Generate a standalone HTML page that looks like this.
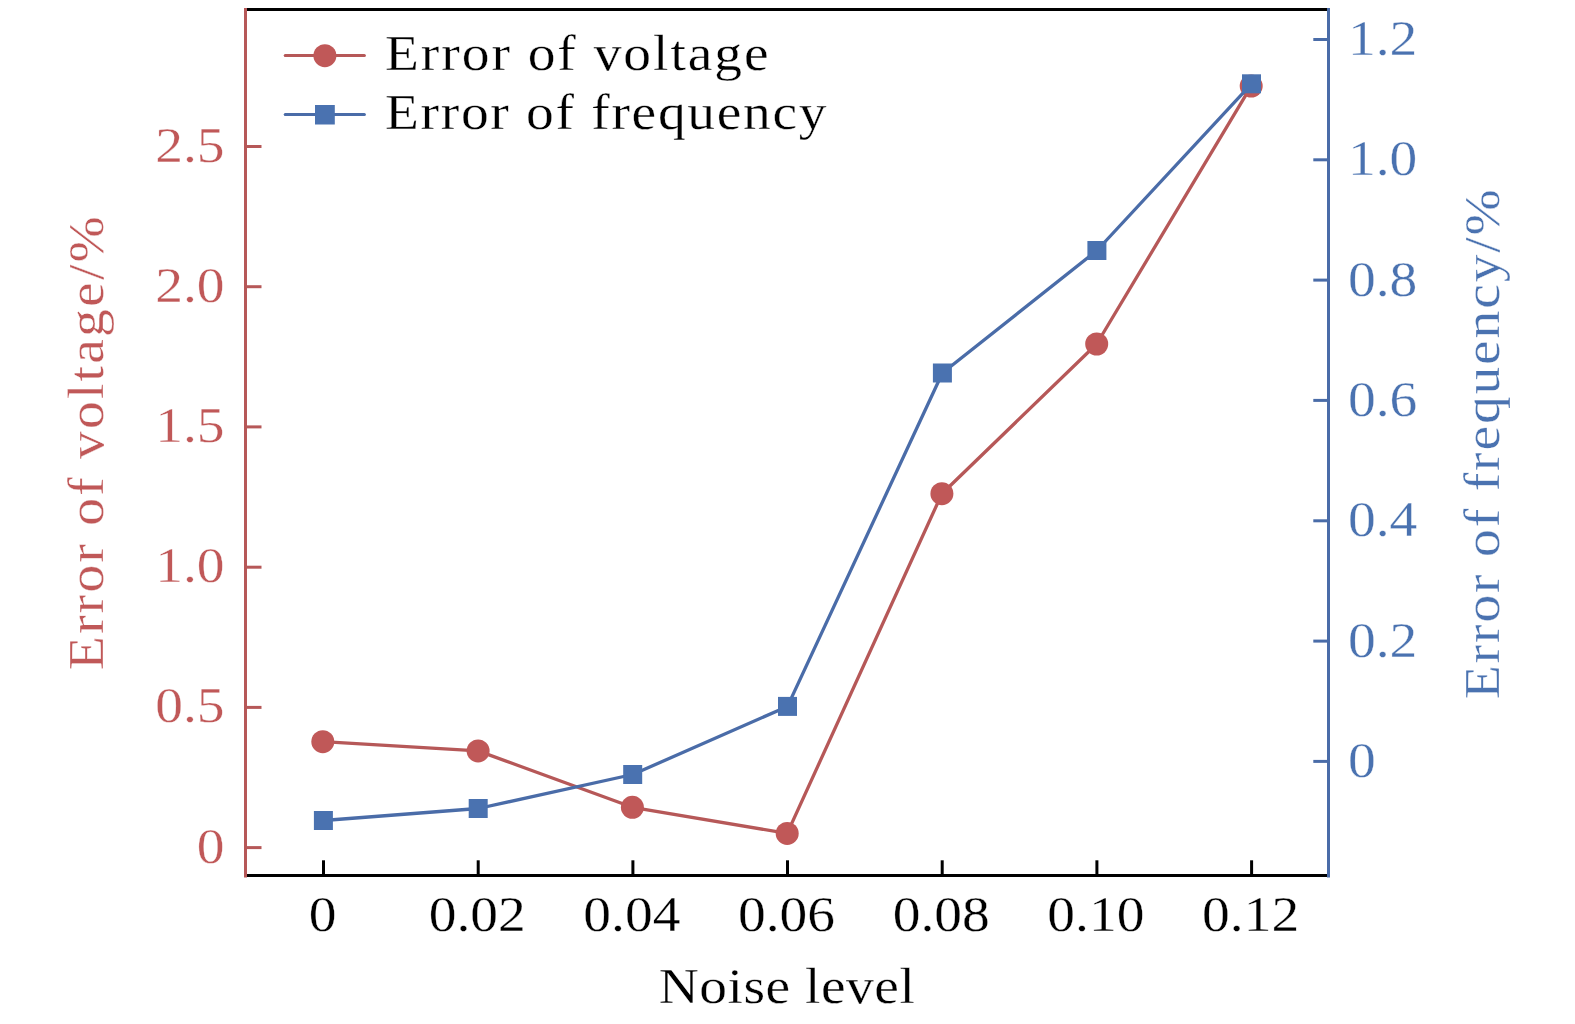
<!DOCTYPE html><html><head><meta charset="utf-8"><style>html,body{margin:0;padding:0;background:#fff;width:1575px;height:1024px;overflow:hidden}svg{display:block}text{font-family:"Liberation Serif", serif}</style></head><body>
<svg width="1575" height="1024" viewBox="0 0 1575 1024">
<rect width="1575" height="1024" fill="#fff"/>
<g stroke-width="3" fill="none">
<line x1="244" y1="9.5" x2="1330" y2="9.5" stroke="#000"/>
<line x1="244" y1="875.5" x2="1330" y2="875.5" stroke="#000"/>
<line x1="245.5" y1="8" x2="245.5" y2="877.5" stroke="#B65858"/>
<line x1="1328.5" y1="8" x2="1328.5" y2="877.5" stroke="#4A6CA8"/>
<line x1="245" y1="847.6" x2="261.5" y2="847.6" stroke="#B65858"/>
<line x1="245" y1="707.4" x2="261.5" y2="707.4" stroke="#B65858"/>
<line x1="245" y1="567.2" x2="261.5" y2="567.2" stroke="#B65858"/>
<line x1="245" y1="426.9" x2="261.5" y2="426.9" stroke="#B65858"/>
<line x1="245" y1="286.7" x2="261.5" y2="286.7" stroke="#B65858"/>
<line x1="245" y1="146.5" x2="261.5" y2="146.5" stroke="#B65858"/>
<line x1="1313.3" y1="761.4" x2="1329" y2="761.4" stroke="#4A6CA8"/>
<line x1="1313.3" y1="641.1" x2="1329" y2="641.1" stroke="#4A6CA8"/>
<line x1="1313.3" y1="520.8" x2="1329" y2="520.8" stroke="#4A6CA8"/>
<line x1="1313.3" y1="400.4" x2="1329" y2="400.4" stroke="#4A6CA8"/>
<line x1="1313.3" y1="280.1" x2="1329" y2="280.1" stroke="#4A6CA8"/>
<line x1="1313.3" y1="159.8" x2="1329" y2="159.8" stroke="#4A6CA8"/>
<line x1="1313.3" y1="39.5" x2="1329" y2="39.5" stroke="#4A6CA8"/>
<line x1="323.5" y1="860.3" x2="323.5" y2="876" stroke="#000"/>
<line x1="478.2" y1="860.3" x2="478.2" y2="876" stroke="#000"/>
<line x1="632.9" y1="860.3" x2="632.9" y2="876" stroke="#000"/>
<line x1="787.5" y1="860.3" x2="787.5" y2="876" stroke="#000"/>
<line x1="942.2" y1="860.3" x2="942.2" y2="876" stroke="#000"/>
<line x1="1096.9" y1="860.3" x2="1096.9" y2="876" stroke="#000"/>
<line x1="1251.6" y1="860.3" x2="1251.6" y2="876" stroke="#000"/>
</g>
<polyline fill="none" stroke="#B65858" stroke-width="3.3" stroke-linejoin="round" points="322.8,741.7 478.1,750.9 632.4,807.3 787.2,833.4 941.9,493.7 1096.7,344.0 1251.2,86.1"/>
<circle cx="322.8" cy="741.7" r="11.5" fill="#C05858"/>
<circle cx="478.1" cy="750.9" r="11.5" fill="#C05858"/>
<circle cx="632.4" cy="807.3" r="11.5" fill="#C05858"/>
<circle cx="787.2" cy="833.4" r="11.5" fill="#C05858"/>
<circle cx="941.9" cy="493.7" r="11.5" fill="#C05858"/>
<circle cx="1096.7" cy="344.0" r="11.5" fill="#C05858"/>
<circle cx="1251.2" cy="86.1" r="11.5" fill="#C05858"/>
<polyline fill="none" stroke="#4A6CA8" stroke-width="3.3" stroke-linejoin="round" points="323.4,820.5 478.2,808.5 632.7,774.5 787.5,706.4 942.4,373.0 1096.9,250.5 1251.5,83.8"/>
<rect x="313.9" y="811.0" width="19" height="19" fill="#4A72B0"/>
<rect x="468.7" y="799.0" width="19" height="19" fill="#4A72B0"/>
<rect x="623.2" y="765.0" width="19" height="19" fill="#4A72B0"/>
<rect x="778.0" y="696.9" width="19" height="19" fill="#4A72B0"/>
<rect x="932.9" y="363.5" width="19" height="19" fill="#4A72B0"/>
<rect x="1087.4" y="241.0" width="19" height="19" fill="#4A72B0"/>
<rect x="1242.0" y="74.3" width="19" height="19" fill="#4A72B0"/>
<line x1="285.2" y1="55.4" x2="364.4" y2="55.4" stroke="#B65858" stroke-width="3" stroke-linecap="round"/>
<circle cx="324.9" cy="55.7" r="11.5" fill="#C05858"/>
<line x1="285.2" y1="114.5" x2="364.4" y2="114.5" stroke="#4A6CA8" stroke-width="3" stroke-linecap="round"/>
<rect x="315" y="105" width="19.8" height="19.5" fill="#4A72B0"/>
<text transform="translate(385.00,70.30) scale(1.110,1)" font-size="50" text-anchor="start" letter-spacing="1.76" fill="#000" stroke="#fff" stroke-width="0.3">Error of voltage</text>
<text transform="translate(385.00,128.80) scale(1.110,1)" font-size="50" text-anchor="start" letter-spacing="1.52" fill="#000" stroke="#fff" stroke-width="0.3">Error of frequency</text>
<text transform="translate(224.50,862.60) scale(1.110,1)" font-size="50" text-anchor="end" letter-spacing="0" fill="#C05858" stroke="#fff" stroke-width="0.3">0</text>
<text transform="translate(224.50,722.38) scale(1.110,1)" font-size="50" text-anchor="end" letter-spacing="0" fill="#C05858" stroke="#fff" stroke-width="0.3">0.5</text>
<text transform="translate(224.50,582.16) scale(1.110,1)" font-size="50" text-anchor="end" letter-spacing="0" fill="#C05858" stroke="#fff" stroke-width="0.3">1.0</text>
<text transform="translate(224.50,441.94) scale(1.110,1)" font-size="50" text-anchor="end" letter-spacing="0" fill="#C05858" stroke="#fff" stroke-width="0.3">1.5</text>
<text transform="translate(224.50,301.72) scale(1.110,1)" font-size="50" text-anchor="end" letter-spacing="0" fill="#C05858" stroke="#fff" stroke-width="0.3">2.0</text>
<text transform="translate(224.50,161.50) scale(1.110,1)" font-size="50" text-anchor="end" letter-spacing="0" fill="#C05858" stroke="#fff" stroke-width="0.3">2.5</text>
<text transform="translate(1348.00,776.90) scale(1.110,1)" font-size="50" text-anchor="start" letter-spacing="0" fill="#4A72B0" stroke="#fff" stroke-width="0.3">0</text>
<text transform="translate(1348.00,656.58) scale(1.110,1)" font-size="50" text-anchor="start" letter-spacing="0" fill="#4A72B0" stroke="#fff" stroke-width="0.3">0.2</text>
<text transform="translate(1348.00,536.26) scale(1.110,1)" font-size="50" text-anchor="start" letter-spacing="0" fill="#4A72B0" stroke="#fff" stroke-width="0.3">0.4</text>
<text transform="translate(1348.00,415.94) scale(1.110,1)" font-size="50" text-anchor="start" letter-spacing="0" fill="#4A72B0" stroke="#fff" stroke-width="0.3">0.6</text>
<text transform="translate(1348.00,295.62) scale(1.110,1)" font-size="50" text-anchor="start" letter-spacing="0" fill="#4A72B0" stroke="#fff" stroke-width="0.3">0.8</text>
<text transform="translate(1348.00,175.30) scale(1.110,1)" font-size="50" text-anchor="start" letter-spacing="0" fill="#4A72B0" stroke="#fff" stroke-width="0.3">1.0</text>
<text transform="translate(1348.00,54.98) scale(1.110,1)" font-size="50" text-anchor="start" letter-spacing="0" fill="#4A72B0" stroke="#fff" stroke-width="0.3">1.2</text>
<text transform="translate(322.50,930.50) scale(1.110,1)" font-size="50" text-anchor="middle" letter-spacing="0" fill="#000" stroke="#fff" stroke-width="0.3">0</text>
<text transform="translate(477.18,930.50) scale(1.110,1)" font-size="50" text-anchor="middle" letter-spacing="0" fill="#000" stroke="#fff" stroke-width="0.3">0.02</text>
<text transform="translate(631.86,930.50) scale(1.110,1)" font-size="50" text-anchor="middle" letter-spacing="0" fill="#000" stroke="#fff" stroke-width="0.3">0.04</text>
<text transform="translate(786.54,930.50) scale(1.110,1)" font-size="50" text-anchor="middle" letter-spacing="0" fill="#000" stroke="#fff" stroke-width="0.3">0.06</text>
<text transform="translate(941.22,930.50) scale(1.110,1)" font-size="50" text-anchor="middle" letter-spacing="0" fill="#000" stroke="#fff" stroke-width="0.3">0.08</text>
<text transform="translate(1095.90,930.50) scale(1.110,1)" font-size="50" text-anchor="middle" letter-spacing="0" fill="#000" stroke="#fff" stroke-width="0.3">0.10</text>
<text transform="translate(1250.58,930.50) scale(1.110,1)" font-size="50" text-anchor="middle" letter-spacing="0" fill="#000" stroke="#fff" stroke-width="0.3">0.12</text>
<text transform="translate(787.00,1003.00) scale(1.110,1)" font-size="50" text-anchor="middle" letter-spacing="0.45" fill="#000" stroke="#fff" stroke-width="0.3">Noise level</text>
<text transform="translate(102.70,442.00) rotate(-90) scale(1.110,1)" font-size="50" text-anchor="middle" letter-spacing="2" fill="#C05858" stroke="#fff" stroke-width="0.3">Error of voltage/%</text>
<text transform="translate(1498.60,443.20) rotate(-90) scale(1.110,1)" font-size="50" text-anchor="middle" letter-spacing="1.67" fill="#4A72B0" stroke="#fff" stroke-width="0.3">Error of frequency/%</text>
</svg></body></html>
